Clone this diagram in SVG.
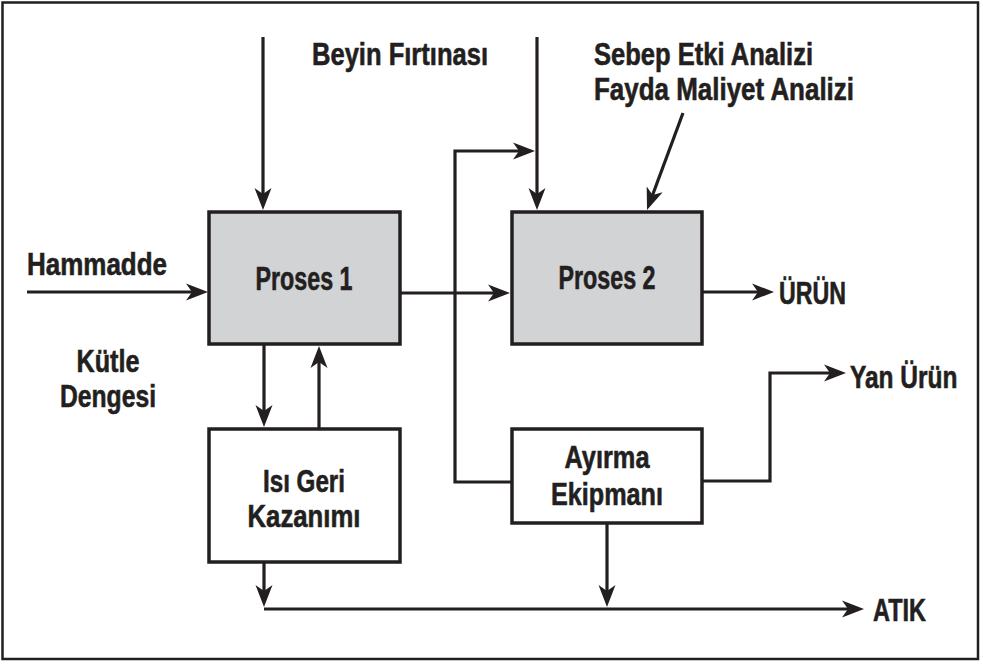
<svg xmlns="http://www.w3.org/2000/svg" width="983" height="664" viewBox="0 0 983 664">
  <style>
    .frame { fill: #ffffff; stroke: #231f20; stroke-width: 2.5; }
    .box { stroke: #231f20; stroke-width: 3.5; }
    .proc { fill: #d1d3d4; }
    .plain { fill: #ffffff; }
    .wire { fill: none; stroke: #231f20; stroke-width: 3.2; stroke-linejoin: miter; }
    .lbl { font-family: "Liberation Sans", Arial, sans-serif; font-weight: bold; font-size: 31px; fill: #231f20; stroke: #231f20; stroke-width: 0.6; }
    .big { font-size: 33px; }
  </style>
  <defs>
    <marker id="head" markerUnits="userSpaceOnUse" viewBox="-24 -10 26 20" refX="-8" refY="0" markerWidth="26" markerHeight="20" orient="auto" overflow="visible">
      <path d="M0,0 L-22,-8.5 L-16,0 L-22,8.5 Z" fill="#231f20"/>
    </marker>
  </defs>

  <rect class="frame" x="2.5" y="2.5" width="975.5" height="656.5"/>

  <!-- flow connectors -->
  <g id="connectors">
    <line class="wire" x1="27" y1="292" x2="200" y2="292" marker-end="url(#head)"/>
    <line class="wire" x1="263" y1="37" x2="263" y2="202" marker-end="url(#head)"/>
    <line class="wire" x1="400" y1="293" x2="502" y2="293" marker-end="url(#head)"/>
    <path class="wire" d="M512,482 H455 V151 H527" marker-end="url(#head)"/>
    <line class="wire" x1="537" y1="37" x2="537" y2="202" marker-end="url(#head)"/>
    <line class="wire" x1="683" y1="113" x2="649.8" y2="202.5" marker-end="url(#head)"/>
    <line class="wire" x1="702" y1="292" x2="766" y2="292" marker-end="url(#head)"/>
    <line class="wire" x1="264" y1="344" x2="264" y2="419" marker-end="url(#head)"/>
    <line class="wire" x1="319" y1="429" x2="319" y2="354" marker-end="url(#head)"/>
    <line class="wire" x1="264" y1="562" x2="264" y2="599" marker-end="url(#head)"/>
    <line class="wire" x1="264" y1="609" x2="856" y2="609" marker-end="url(#head)"/>
    <line class="wire" x1="607" y1="523" x2="607" y2="599" marker-end="url(#head)"/>
    <path class="wire" d="M702,481 H770 V373 H838" marker-end="url(#head)"/>
  </g>

  <!-- process blocks -->
  <g id="proses1">
    <rect class="box proc" x="209" y="212" width="191" height="132"/>
    <text class="lbl big" x="304" y="290" text-anchor="middle" textLength="97" lengthAdjust="spacingAndGlyphs">Proses 1</text>
  </g>
  <g id="proses2">
    <rect class="box proc" x="512" y="212" width="190" height="132"/>
    <text class="lbl big" x="607" y="289" text-anchor="middle" textLength="97" lengthAdjust="spacingAndGlyphs">Proses 2</text>
  </g>
  <g id="isi-geri-kazanimi">
    <rect class="box plain" x="209" y="429" width="191" height="133"/>
    <text class="lbl" x="304" y="492" text-anchor="middle" textLength="82" lengthAdjust="spacingAndGlyphs">Isı Geri</text>
    <text class="lbl" x="304" y="527" text-anchor="middle" textLength="113" lengthAdjust="spacingAndGlyphs">Kazanımı</text>
  </g>
  <g id="ayirma-ekipmani">
    <rect class="box plain" x="512" y="429" width="190" height="94"/>
    <text class="lbl" x="607" y="468" text-anchor="middle" textLength="85" lengthAdjust="spacingAndGlyphs">Ayırma</text>
    <text class="lbl" x="607" y="505" text-anchor="middle" textLength="112" lengthAdjust="spacingAndGlyphs">Ekipmanı</text>
  </g>

  <!-- inputs, outputs and notes -->
  <g id="hammadde">
    <text class="lbl" x="27" y="275" textLength="140" lengthAdjust="spacingAndGlyphs">Hammadde</text>
  </g>
  <g id="kutle-dengesi">
    <text class="lbl" x="108" y="372" text-anchor="middle" textLength="63" lengthAdjust="spacingAndGlyphs">Kütle</text>
    <text class="lbl" x="108" y="407" text-anchor="middle" textLength="96" lengthAdjust="spacingAndGlyphs">Dengesi</text>
  </g>
  <g id="beyin-firtinasi">
    <text class="lbl" x="312" y="65" textLength="176" lengthAdjust="spacingAndGlyphs">Beyin Fırtınası</text>
  </g>
  <g id="analizler">
    <text class="lbl" x="594" y="65" textLength="219" lengthAdjust="spacingAndGlyphs">Sebep Etki Analizi</text>
    <text class="lbl" x="594" y="100" textLength="260" lengthAdjust="spacingAndGlyphs">Fayda Maliyet Analizi</text>
  </g>
  <g id="urun">
    <text class="lbl" x="779" y="304" textLength="67" lengthAdjust="spacingAndGlyphs">ÜRÜN</text>
  </g>
  <g id="yan-urun">
    <!-- condensed by scaling so the label stays inside the frame -->
    <text class="lbl" transform="translate(850,388) scale(0.79,1)">Yan Ürün</text>
  </g>
  <g id="atik">
    <text class="lbl" x="873" y="621" textLength="53" lengthAdjust="spacingAndGlyphs">ATIK</text>
  </g>
</svg>
